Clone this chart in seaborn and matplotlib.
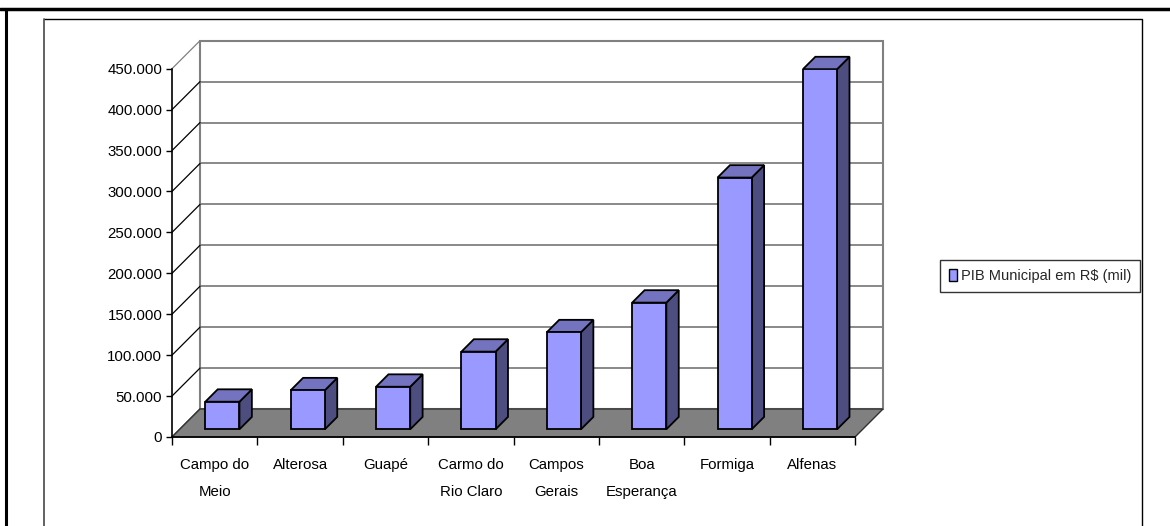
import matplotlib
matplotlib.use("Agg")
import matplotlib.pyplot as plt
from matplotlib import font_manager
from matplotlib.patches import Polygon, Rectangle
from matplotlib.lines import Line2D
from matplotlib.ticker import FixedLocator, FuncFormatter
import seaborn as sns
import pandas as pd

# data (R$ mil)
cities = ["Campo do\nMeio", "Alterosa", "Guapé", "Carmo do\nRio Claro",
          "Campos\nGerais", "Boa\nEsperança", "Formiga", "Alfenas"]
pib = [33700, 47700, 52000, 94900, 118600, 154800, 307600, 440000]
yticks = [0, 50000, 100000, 150000, 200000, 250000, 300000, 350000, 400000, 450000]
series_name = "PIB Municipal em R$ (mil)"

sns.set_style("white")
names = {f.name for f in font_manager.fontManager.ttflist}
if "Liberation Sans Narrow" in names:
    plt.rcParams["font.family"] = ["Liberation Sans Narrow", "DejaVu Sans"]
    fsize = 13
    lspace = 1.7
else:
    plt.rcParams["font.family"] = ["Liberation Sans", "DejaVu Sans"]
    fsize = 10.5
    lspace = 2.2

W, H = 1170, 526
fig = plt.figure(figsize=(W / 100, H / 100), dpi=100)
fig.patch.set_facecolor("white")

# front plane of the 3d box, in pixels
left_px, right_px, bottom_px, top_px = 172, 855, 437, 68.7
ax = fig.add_axes([left_px / W, 1 - bottom_px / H,
                   (right_px - left_px) / W, (bottom_px - top_px) / H])
ax.set_xlim(-0.5, len(cities) - 0.5)
ax.set_ylim(0, 450000)
ax.patch.set_alpha(0)

# pixel -> data conversions for the depth effect
ppx = (right_px - left_px) / len(cities)
ppy = (bottom_px - top_px) / 450000
depth = 28
ddx, ddy = depth / ppx, depth / ppy
x0, x1 = -0.5, len(cities) - 0.5
ymax = 450000

# back wall + gridlines
ax.add_patch(Rectangle((x0 + ddx, ddy), x1 - x0, ymax, facecolor="white",
                       edgecolor="#808080", lw=1.5, zorder=0.5, clip_on=False))
for t in yticks[1:-1]:
    ax.plot([x0 + ddx, x1 + ddx], [t + ddy, t + ddy], color="#808080", lw=1.3,
            zorder=0.6, clip_on=False)
# side wall diagonals
for t in yticks:
    c = "#808080" if t == ymax else "black"
    ax.plot([x0, x0 + ddx], [t, t + ddy], color=c, lw=0.9, zorder=0.7, clip_on=False)

# floor
ax.add_patch(Polygon([(x0, 0), (x1, 0), (x1 + ddx, ddy), (x0 + ddx, ddy)],
                     closed=True, facecolor="#808080", edgecolor="#333333", lw=1,
                     zorder=1, clip_on=False))

df = pd.DataFrame({"cidade": cities, "pib": pib})
sns.barplot(data=df, x="cidade", y="pib", color="#9999FF", saturation=1,
            width=0.4, edgecolor="black", linewidth=1.3, label=series_name,
            ax=ax, zorder=3)

# move bars into depth and add top / side faces
bar_off, bar_depth = 7.7, 12.4
ox, oy = bar_off / ppx, bar_off / ppy
bx, by = bar_depth / ppx, bar_depth / ppy
for p in ax.patches:
    if not isinstance(p, Rectangle) or p.get_zorder() != 3:
        continue
    p.set_x(p.get_x() + ox)
    p.set_y(oy)
    xa, xb = p.get_x(), p.get_x() + p.get_width()
    ya, yb = oy, oy + p.get_height()
    side = Polygon([(xb, ya), (xb + bx, ya + by), (xb + bx, yb + by), (xb, yb)],
                   closed=True, facecolor="#4D4D80", edgecolor="black", lw=1.3,
                   zorder=2.9, clip_on=False)
    top = Polygon([(xa, yb), (xb, yb), (xb + bx, yb + by), (xa + bx, yb + by)],
                  closed=True, facecolor="#7373C0", edgecolor="black", lw=1.3,
                  zorder=2.9, clip_on=False)
    ax.add_patch(side)
    ax.add_patch(top)

# axes styling
for s in ["top", "right"]:
    ax.spines[s].set_visible(False)
for s in ["left", "bottom"]:
    ax.spines[s].set_color("black")
    ax.spines[s].set_linewidth(1.2)
ax.set_xlabel("")
ax.set_ylabel("")
ax.yaxis.set_major_locator(FixedLocator(yticks))
ax.yaxis.set_major_formatter(FuncFormatter(lambda v, pos: f"{v:,.0f}".replace(",", ".")))
ax.tick_params(axis="y", direction="out", length=4, width=1, color="black",
               pad=3, labelsize=fsize + 0.3, labelcolor="black", left=True)
ax.set_xticks(range(len(cities)))
ax.set_xticklabels(cities, linespacing=lspace)
ax.set_xticks([i - 0.5 for i in range(len(cities) + 1)], minor=True)
ax.tick_params(axis="x", which="major", length=0, pad=15, labelsize=fsize + 0.3,
               labelcolor="black")
ax.tick_params(axis="x", which="minor", direction="out", length=6, width=1,
               color="black", bottom=True)
for lab in ax.get_xticklabels():
    lab.set_verticalalignment("top")

# legend
leg = ax.legend(loc="center left", bbox_to_anchor=(940 / W, 1 - 276 / H),
                bbox_transform=fig.transFigure, frameon=True, fancybox=False,
                fontsize=fsize, handlelength=0.55, handleheight=0.9,
                handletextpad=0.3, borderpad=0.6, borderaxespad=0)
leg.get_frame().set_edgecolor("black")
leg.get_frame().set_linewidth(1)
for h in leg.legend_handles:
    h.set_linewidth(1)

# outer frames
def fline(xs, ys, **kw):
    fig.add_artist(Line2D([x / W for x in xs], [1 - y / H for y in ys],
                          transform=fig.transFigure, **kw))

fline([0, W], [9, 9], color="black", lw=2.5)
fline([5.5, 5.5], [9, H], color="black", lw=2.2)
fline([44.5, 1142, 1142], [19, 19, H], color="black", lw=1)
fline([44.5, 44.5], [19, H], color="#555555", lw=1.3)

fig.savefig("out.png", dpi=100, facecolor="white")
